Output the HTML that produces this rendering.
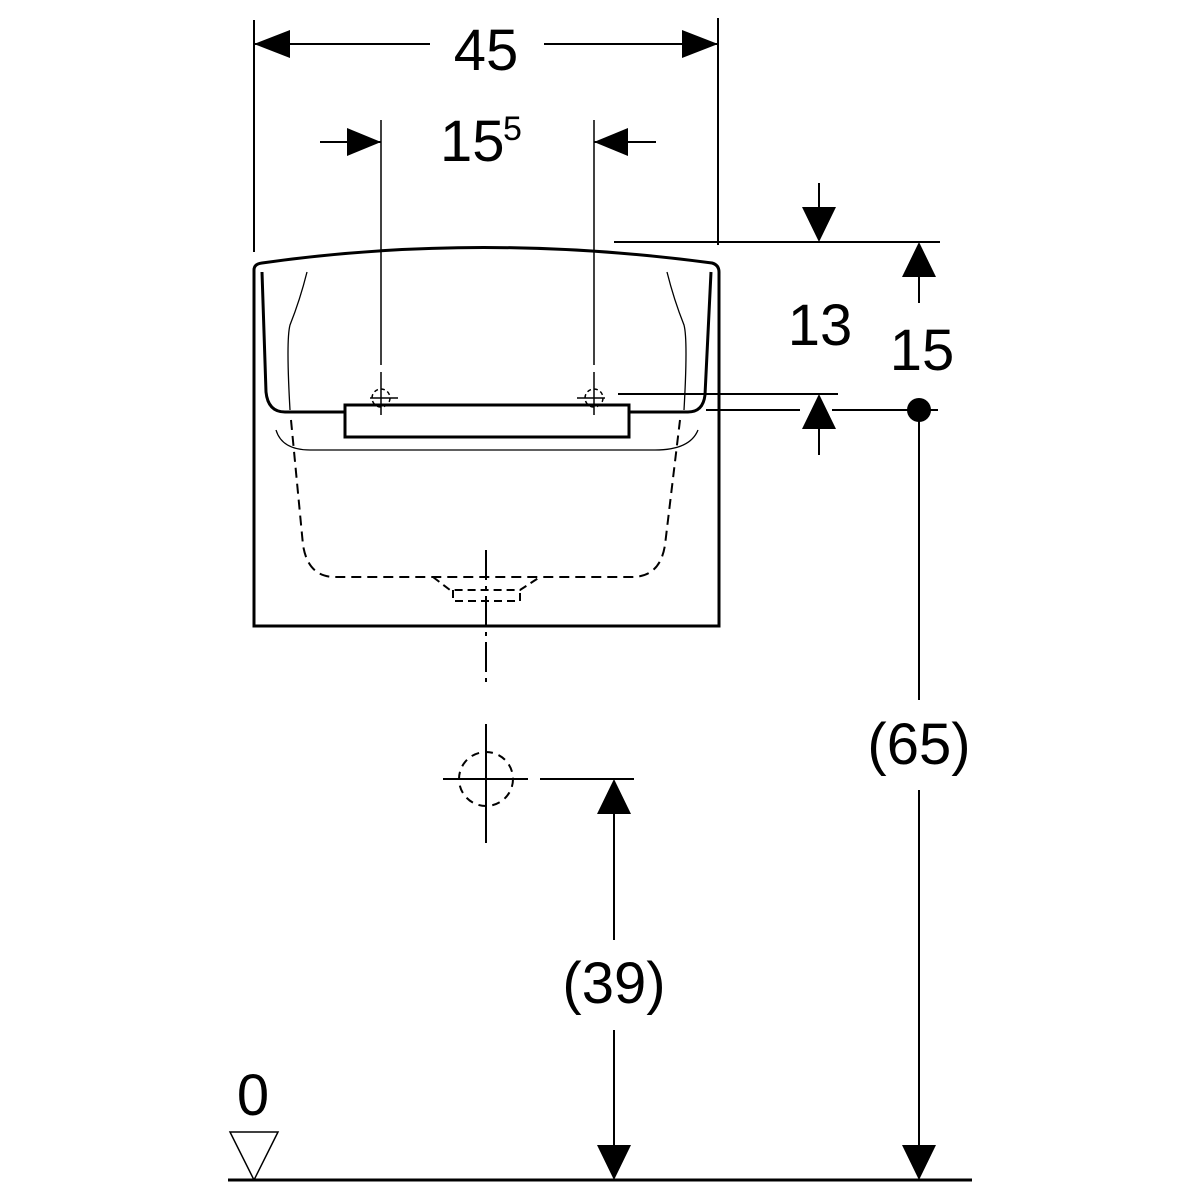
<!DOCTYPE html>
<html><head><meta charset="utf-8"><style>html,body{margin:0;padding:0;background:#fff}svg{display:block}text{font-family:"Liberation Sans",sans-serif;fill:#000}</style></head>
<body>
<svg width="1200" height="1200" viewBox="0 0 1200 1200" xmlns="http://www.w3.org/2000/svg">
<g stroke="#000" fill="none">
<path d="M254,626 L254,270 Q254,264 262,263 Q480,232 712,263 Q719,265 719,272 L719,626 Z" stroke-width="3"/>
<path d="M262,272 L266,392 Q268,412 285,412 L345,412 M629,412 L688,412 Q703,412 705,395 L711,272" stroke-width="3"/>
<rect x="345" y="405" width="284" height="32" stroke-width="3"/>
<path d="M307,272 Q300,300 290,325 Q286,340 290,410" stroke-width="1.3"/>
<path d="M667,272 Q674,300 684,325 Q688,340 684,410" stroke-width="1.3"/>
<path d="M276,430 Q282,450 310,450 L655,450 Q690,450 698,430" stroke-width="1.3"/>
<path d="M291,420 L303,545 Q308,577 335,577 L632,577 Q660,577 665,545 L680,420" stroke-width="2" stroke-dasharray="10,6"/>
<path d="M433,577 L450,590 L520,590 L540,577 M453,590 L453,601 L520,601 L520,590" stroke-width="2" stroke-dasharray="8,5"/>
<path d="M486,550 L486,688" stroke-width="2" stroke-dasharray="30,6,4,6"/>
<path d="M486,724 L486,843 M443,779 L528,779" stroke-width="2"/>
<circle cx="486" cy="779" r="27" stroke-width="2" stroke-dasharray="8,6"/>
<path d="M540,779 L634,779" stroke-width="2"/>
<path d="M381,120 L381,365 M381,372 L381,415 M594,120 L594,365 M594,372 L594,415 M370,398 L398,398 M577,398 L605,398" stroke-width="1.5"/>
<circle cx="381" cy="398" r="9" stroke-width="1.5" stroke-dasharray="4,3"/>
<circle cx="594" cy="398" r="9" stroke-width="1.5" stroke-dasharray="4,3"/>
<path d="M254,20 L254,252 M718,18 L718,245 M254,44 L430,44 M544,44 L718,44" stroke-width="2"/>
<path d="M320,142 L381,142 M594,142 L656,142" stroke-width="2"/>
<path d="M614,242 L940,242 M618,394 L838,394 M706,410 L800,410 M832,410 L938,410" stroke-width="2"/>
<path d="M819,183 L819,210 M819,425 L819,455 M919,275 L919,303 M919,410 L919,700 M919,790 L919,1150" stroke-width="2"/>
<path d="M614,810 L614,940 M614,1030 L614,1150" stroke-width="2"/>
<path d="M228,1180 L972,1180" stroke-width="3"/>
<path d="M230,1132 L278,1132 L254,1180 Z" stroke-width="1.5"/>
</g>
<g fill="#000">
<polygon points="254,44 290,30 290,58"/>
<polygon points="718,44 682,30 682,58"/>
<polygon points="381,142 347,128 347,156"/>
<polygon points="594,142 628,128 628,156"/>
<polygon points="819,242 802,207 836,207"/>
<polygon points="819,394 802,429 836,429"/>
<polygon points="919,242 902,277 936,277"/>
<polygon points="614,779 597,814 631,814"/>
<polygon points="614,1180 597,1145 631,1145"/>
<polygon points="919,1180 902,1145 936,1145"/>
<circle cx="919" cy="410" r="12"/>
</g>
<text x="486" y="70" font-size="58" text-anchor="middle">45</text>
<text x="440" y="161" font-size="58">15</text><text x="503" y="140" font-size="34">5</text>
<text x="820" y="345" font-size="58" text-anchor="middle">13</text>
<text x="922" y="370" font-size="58" text-anchor="middle">15</text>
<text x="919" y="764" font-size="58" text-anchor="middle">(65)</text>
<text x="614" y="1003" font-size="58" text-anchor="middle">(39)</text>
<text x="253" y="1115" font-size="58" text-anchor="middle">0</text>
</svg>
</body></html>
